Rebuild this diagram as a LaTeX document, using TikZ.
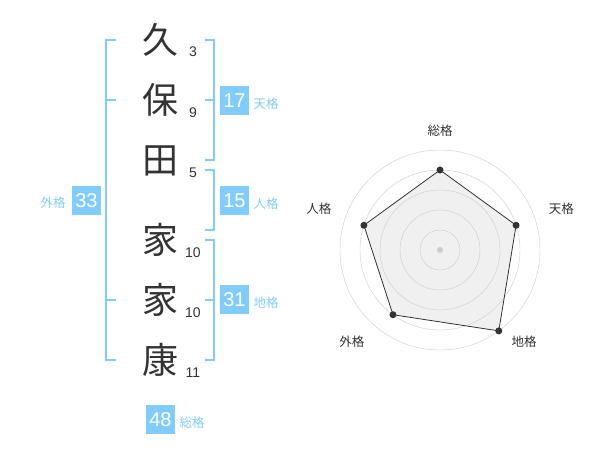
\documentclass[tikz,border=0pt]{standalone}
\usepackage{fontspec}
\setmainfont{Liberation Sans}
\newfontfamily\jpfont{Noto Sans CJK JP}
\usetikzlibrary{positioning}
\definecolor{kakublue}{HTML}{80CCFF}
\definecolor{inkgray}{HTML}{333333}
\definecolor{ringgray}{HTML}{CCCCCC}
\definecolor{areagray}{HTML}{F0F0F0}

\begin{document}
\begin{tikzpicture}[x=1pt,y=-1pt,
	kanji/.style = {text=inkgray, inner sep=0pt, font=\jpfont\fontsize{36}{36}\selectfont},
	strokes/.style = {text=inkgray, inner sep=0pt, font=\fontsize{14}{14}\selectfont},
	kakubox/.style = {fill=kakublue, text=white, minimum size=29pt, inner sep=0pt, font=\fontsize{20}{20}\selectfont},
	kakuname/.style = {text=kakublue, inner sep=0pt, font=\jpfont\fontsize{12.5}{12.5}\selectfont},
	bracket/.style = {draw=kakublue, line width=2pt}]
	\useasboundingbox (0,0) rectangle (600,470);
	% name
	\node[kanji] (k1) at (160,40) {久};
	\node[kanji] (k2) at (160,100) {保};
	\node[kanji] (k3) at (160,161) {田};
	\node[kanji] (k4) at (160,240) {家};
	\node[kanji] (k5) at (160,300) {家};
	\node[kanji] (k6) at (160,360) {康};
	\node[strokes] (s1) at (193,52) {3};
	\node[strokes] (s2) at (193,113) {9};
	\node[strokes] (s3) at (193,173) {5};
	\node[strokes] (s4) at (193,253) {10};
	\node[strokes] (s5) at (193,313) {10};
	\node[strokes] (s6) at (193,373) {11};
	% brackets
	\coordinate (g1) at (106,40);
	\coordinate (g2) at (106,360);
	\draw[bracket] (116,40) -- (g1) -- (g2) -- (116,360);
	\draw[bracket] (g1 |- 0,100) -- (116,100);
	\draw[bracket] (g1 |- 0,300) -- (116,300);
	\coordinate (t1) at (214,40);
	\coordinate (t2) at (214,160);
	\draw[bracket] (205,40) -- (t1) -- (t2) -- (205,160);
	\draw[bracket] (t1 |- 0,100) -- (205,100);
	\coordinate (j1) at (214,170);
	\coordinate (j2) at (214,230);
	\draw[bracket] (205,170) -- (j1) -- (j2) -- (205,230);
	\coordinate (c1) at (214,240);
	\coordinate (c2) at (214,360);
	\draw[bracket] (205,240) -- (c1) -- (c2) -- (205,360);
	\draw[bracket] (c1 |- 0,300) -- (205,300);
	% totals
	\node[kakubox] (b33) at (86.5,200.5) {33};
	\node[kakubox] (b17) at (234.5,100.5) {17};
	\node[kakubox] (b15) at (234.5,200.5) {15};
	\node[kakubox] (b31) at (234.5,300) {31};
	\node[kakubox] (b48) at (160.5,419.5) {48};
	\node[kakuname] (n33) at (53,203) {外格};
	\node[kakuname] (n17) at (266,103.5) {天格};
	\node[kakuname] (n15) at (266,203.5) {人格};
	\node[kakuname] (n31) at (266,303) {地格};
	\node[kakuname] (n48) at (192,422.5) {総格};
	% radar
	\begin{scope}[shift={(440,250)},y=1pt]
		\coordinate (p1) at (90:80);
		\coordinate (p2) at (18:80);
		\coordinate (p3) at (-54:100);
		\coordinate (p4) at (-126:80);
		\coordinate (p5) at (162:80);
		\fill[areagray] (p1) -- (p2) -- (p3) -- (p4) -- (p5) -- cycle;
		\foreach \r in {20,40,60,80,100}
			\draw[ringgray] (0,0) circle (\r);
		\fill[ringgray] (0,0) circle (3);
		\draw[inkgray, line width=0.8pt] (p1) -- (p2) -- (p3) -- (p4) -- (p5) -- cycle;
		\foreach \p in {p1,p2,p3,p4,p5}
			\fill[inkgray] (\p) circle (3.5);
		\begin{scope}[every node/.style={text=inkgray, inner sep=0pt, font=\jpfont\fontsize{12.5}{12.5}\selectfont}]
			\node (r1) at (90:119) {総格};
			\node (r2) at (18.6:128) {天格};
			\node (r3) at (-47.5:124.5) {地格};
			\node (r4) at (-134:127) {外格};
			\node (r5) at (161:128) {人格};
		\end{scope}
	\end{scope}
\end{tikzpicture}
\end{document}
